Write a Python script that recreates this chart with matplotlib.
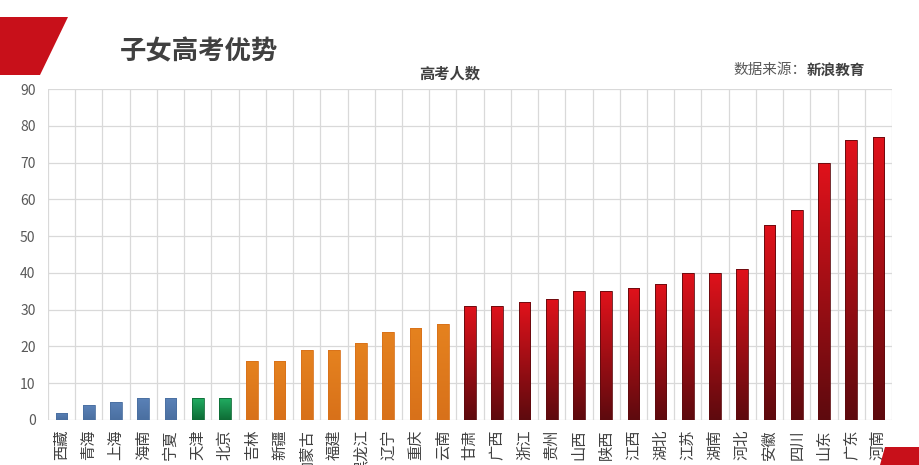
import matplotlib
matplotlib.use("Agg")
import matplotlib.pyplot as plt
import numpy as np
from matplotlib.patches import Polygon
from matplotlib.colors import LinearSegmentedColormap

plt.rcParams['font.family'] = ['Noto Sans CJK SC', 'DejaVu Sans']

provinces = ["西藏", "青海", "上海", "海南", "宁夏", "天津", "北京", "吉林", "新疆", "内蒙古",
             "福建", "黑龙江", "辽宁", "重庆", "云南", "甘肃", "广西", "浙江", "贵州", "山西",
             "陕西", "江西", "湖北", "江苏", "湖南", "河北", "安徽", "四川", "山东", "广东", "河南"]
values = [2, 4, 5, 6, 6, 6, 6, 16, 16, 19,
          19, 21, 24, 25, 26, 31, 31, 32, 33, 35,
          35, 36, 37, 40, 40, 41, 53, 57, 70, 76, 77]
groups = ["blue"] * 5 + ["green"] * 2 + ["orange"] * 8 + ["red"] * 16
y_ticks = [0, 10, 20, 30, 40, 50, 60, 70, 80, 90]

title = "子女高考优势"
chart_title = "高考人数"
source_label = "数据来源："
source_name = "新浪教育"

gradients = {
    "blue": ("#4A6FA0", "#5B82B8"),
    "green": ("#0E6B35", "#22B063"),
    "orange": ("#D8711A", "#E5821F"),
    "red": ("#5E0A0E", "#E0121B"),
}

fig = plt.figure(figsize=(9.2, 4.65), dpi=100)
ax = fig.add_axes([0.0522, 0.0968, 0.9174, 0.7118])

x = np.arange(len(values))
bars = ax.bar(x, values, width=0.43, color="none", edgecolor="none", zorder=3)
for b, g in zip(bars, groups):
    lo, hi = gradients[g]
    cmap = LinearSegmentedColormap.from_list("g", [lo, hi])
    grad = np.linspace(0, 1, 100).reshape(-1, 1)
    bx, by = b.get_x(), b.get_y()
    w, h = b.get_width(), b.get_height()
    im = ax.imshow(grad, cmap=cmap, origin="lower", aspect="auto",
                   extent=[bx, bx + w, by, by + h], zorder=3)
    im.set_clip_path(b)
    ax.add_patch(plt.Rectangle((bx, by), w, h, fill=False,
                               edgecolor=lo, linewidth=0.6, zorder=4))

ax.set_xlim(-0.5, len(values) - 0.5)
ax.set_ylim(0, 90)
ax.set_yticks(y_ticks)
ax.set_yticklabels([str(t) for t in y_ticks], color="#595959", fontsize=10)
ax.set_xticks(x)
ax.set_xticklabels(provinces, rotation=90, fontsize=11, color="#404040", va="top")
ax.set_xticks(np.arange(len(values) + 1) - 0.5, minor=True)
ax.tick_params(axis="both", which="both", length=0)
ax.tick_params(axis="x", pad=7)
ax.tick_params(axis="y", pad=9)
ax.grid(axis="y", which="major", color="#D9D9D9", linewidth=0.9, zorder=0)
ax.grid(axis="x", which="minor", color="#D9D9D9", linewidth=0.9, zorder=0)
ax.grid(axis="x", which="major", visible=False)
for s in ax.spines.values():
    s.set_visible(False)
ax.set_axisbelow(True)

# decorations
fig.patches.append(Polygon([[0, 1 - 17 / 465], [68 / 920, 1 - 17 / 465],
                            [40 / 920, 1 - 75 / 465], [0, 1 - 75 / 465]],
                           closed=True, transform=fig.transFigure,
                           facecolor="#C8101A", edgecolor="none"))
fig.patches.append(Polygon([[885 / 920, 1 - 447 / 465], [1, 1 - 447 / 465],
                            [1, 0], [880 / 920, 0]],
                           closed=True, transform=fig.transFigure,
                           facecolor="#C8101A", edgecolor="none"))

fig.text(120 / 920, 1 - 52 / 465, title, fontsize=19, fontweight="bold",
         color="#404040", va="center", ha="left")
fig.text(450 / 920, 1 - 74 / 465, chart_title, fontsize=11, fontweight="bold",
         color="#404040", va="center", ha="center")
t1 = fig.text(733 / 920, 1 - 70 / 465, source_label, fontsize=10.5,
              color="#595959", va="center", ha="left")
fig.canvas.draw()
bb = t1.get_window_extent()
fig.text(bb.x1 / fig.bbox.width, 1 - 70 / 465, source_name, fontsize=10.5,
         fontweight="bold", color="#404040", va="center", ha="left")

fig.savefig("out.png", dpi=100)
